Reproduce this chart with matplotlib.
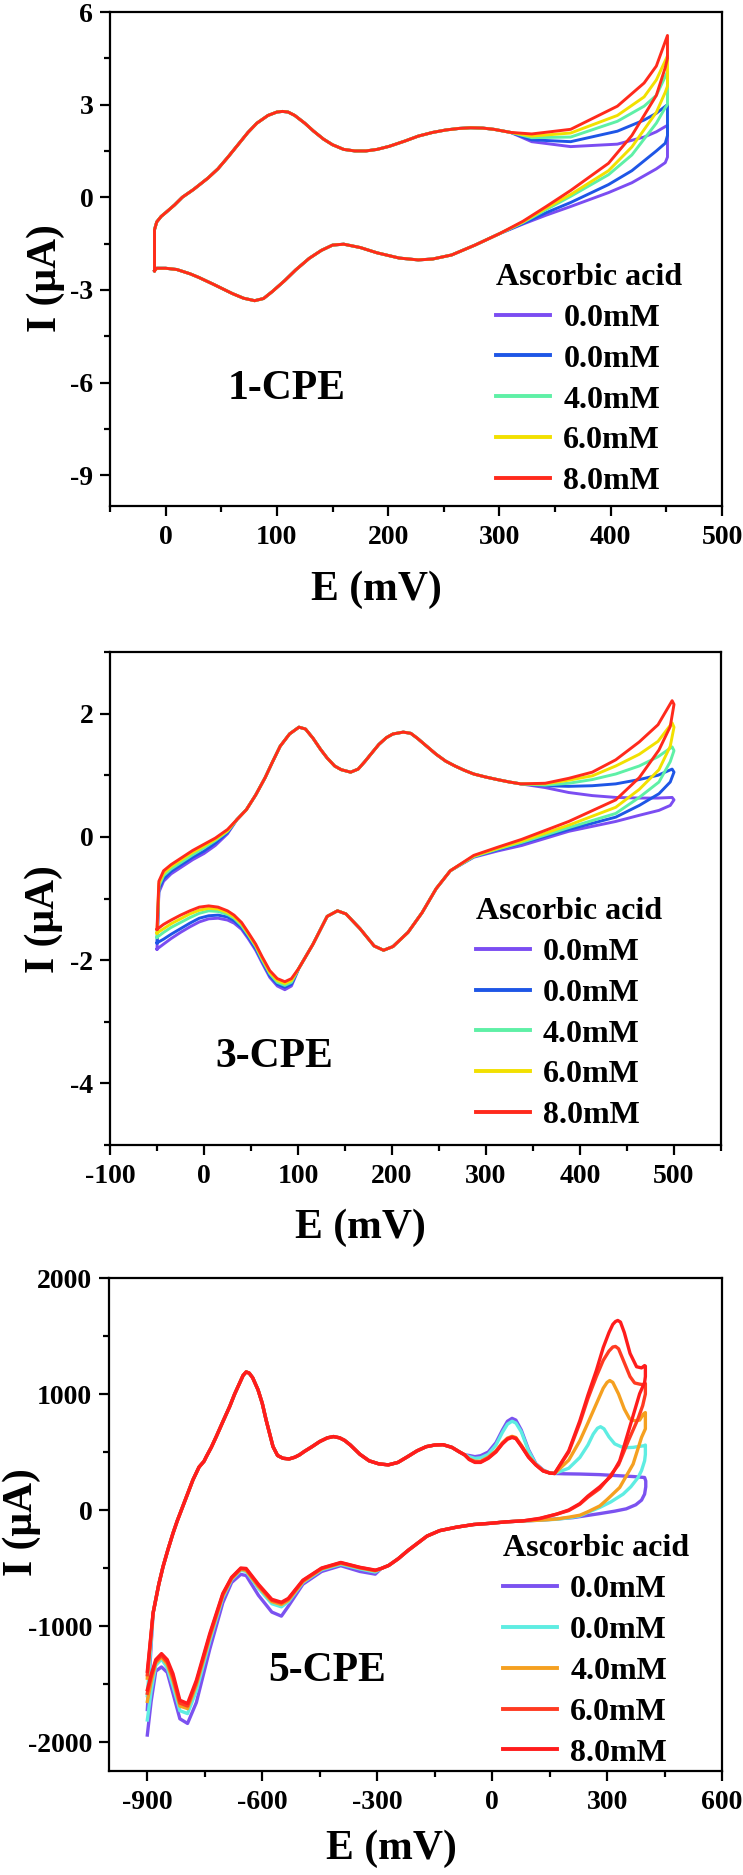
import matplotlib
matplotlib.use("Agg")
import matplotlib.pyplot as plt
import numpy as np
from matplotlib.ticker import MultipleLocator, AutoMinorLocator

plt.rcParams['font.family'] = ['Liberation Serif', 'DejaVu Serif']
plt.rcParams['font.weight'] = 'bold'
plt.rcParams['axes.labelweight'] = 'bold'
plt.rcParams['axes.unicode_minus'] = False

labels = ["0.0mM", "0.0mM", "4.0mM", "6.0mM", "8.0mM"]
legend_title = "Ascorbic acid"
colors_a = ["#7B4DF2", "#1E56E6", "#5EF0A6", "#F2E000", "#FF2A1C"]
colors_c = ["#7B52F0", "#5EEDE2", "#F5A020", "#FF3B22", "#FF1C1C"]

# ---------------- Panel 1 (1-CPE) ----------------
p1_up_x = [-10, -8, -4, 0, 8, 15, 25, 38, 47, 56, 65, 74, 82, 92, 100, 105, 110, 116, 125,
           133, 142, 150, 160, 170, 180, 190, 201, 215, 227, 240, 252, 264, 274, 285, 295, 310]
p1_up_y = [-1.05, -0.8, -0.62, -0.5, -0.25, 0.0, 0.25, 0.62, 0.92, 1.3, 1.7, 2.1, 2.4, 2.65, 2.76,
           2.78, 2.76, 2.65, 2.4, 2.14, 1.88, 1.7, 1.55, 1.5, 1.5, 1.55, 1.65, 1.82, 1.98, 2.1, 2.18,
           2.23, 2.25, 2.24, 2.2, 2.1]
p1_uptail_x = [329, 364, 406, 430, 441, 451]
p1_uptail_y = [
    [1.8, 1.64, 1.72, 1.95, 2.12, 2.33],
    [1.86, 1.8, 2.14, 2.5, 2.72, 3.0],
    [1.93, 1.95, 2.46, 2.95, 3.3, 4.06],
    [1.98, 2.08, 2.65, 3.25, 3.8, 4.58],
    [2.05, 2.2, 2.95, 3.7, 4.25, 5.24],
]
p1_lotail_x = [451, 449, 441, 419, 398, 364, 342, 321]
p1_lotail_y = [
    [1.3, 1.12, 0.92, 0.47, 0.15, -0.3, -0.58, -0.87],
    [2.0, 1.75, 1.5, 0.86, 0.41, -0.17, -0.5, -0.85],
    [3.0, 2.9, 2.4, 1.37, 0.73, 0.03, -0.4, -0.82],
    [3.6, 3.4, 2.75, 1.63, 0.86, 0.09, -0.35, -0.8],
    [4.5, 4.2, 3.3, 2.0, 1.1, 0.22, -0.3, -0.78],
]
p1_lo_x = [300, 278, 257, 240, 227, 210, 190, 175, 160, 150, 140, 129, 117, 107, 96, 88, 80,
           70, 60, 43, 30, 22, 10, 0, -8, -10]
p1_lo_y = [-1.18, -1.55, -1.87, -2.0, -2.03, -1.97, -1.8, -1.63, -1.52, -1.55, -1.72, -1.98,
           -2.35, -2.7, -3.05, -3.28, -3.35, -3.27, -3.12, -2.82, -2.6, -2.48, -2.34, -2.3, -2.3, -2.38]

# ---------------- Panel 2 (3-CPE) ----------------
p2_upleft_x = [-50, -48, -43, -35, -25, -12, 0, 12, 25]
p2_upleft_y = [
    [-1.82, -0.9, -0.72, -0.6, -0.5, -0.37, -0.27, -0.14, 0.05],
    [-1.72, -0.85, -0.68, -0.56, -0.46, -0.33, -0.23, -0.1, 0.07],
    [-1.63, -0.8, -0.63, -0.52, -0.42, -0.29, -0.18, -0.06, 0.09],
    [-1.56, -0.76, -0.59, -0.48, -0.38, -0.25, -0.15, -0.04, 0.1],
    [-1.5, -0.72, -0.55, -0.45, -0.35, -0.22, -0.12, -0.02, 0.12],
]
p2_up_x = [35, 45, 55, 65, 73, 81, 91, 101, 108, 116, 124, 131, 139, 146, 156, 164, 171, 179,
           186, 194, 201, 212, 220, 227, 237, 247, 257, 267, 277, 287, 300, 312, 325]
p2_up_y = [0.28, 0.44, 0.68, 0.96, 1.22, 1.47, 1.67, 1.78, 1.75, 1.6, 1.42, 1.28, 1.15, 1.09,
           1.05, 1.1, 1.22, 1.37, 1.5, 1.61, 1.67, 1.7, 1.68, 1.6, 1.47, 1.34, 1.23, 1.15, 1.08,
           1.02, 0.97, 0.93, 0.89]
p2_uptail_x = [337, 363, 388, 413, 438, 463, 483, 498]
p2_uptail_y = [
    [0.86, 0.8, 0.72, 0.67, 0.64, 0.63, 0.63, 0.64],
    [0.86, 0.83, 0.82, 0.83, 0.86, 0.93, 1.0, 1.1],
    [0.86, 0.84, 0.87, 0.93, 1.02, 1.15, 1.3, 1.46],
    [0.86, 0.86, 0.92, 0.99, 1.15, 1.34, 1.55, 1.85],
    [0.86, 0.87, 0.95, 1.05, 1.25, 1.54, 1.82, 2.21],
]
p2_lotail_x = [500, 496, 484, 463, 438, 388, 338, 312, 287]
p2_lotail_y = [
    [0.6, 0.51, 0.43, 0.35, 0.25, 0.09, -0.14, -0.23, -0.33],
    [1.05, 0.89, 0.7, 0.51, 0.32, 0.12, -0.1, -0.21, -0.32],
    [1.4, 1.22, 0.89, 0.64, 0.38, 0.15, -0.09, -0.2, -0.32],
    [1.78, 1.47, 1.09, 0.77, 0.48, 0.19, -0.07, -0.19, -0.31],
    [2.15, 1.79, 1.41, 0.96, 0.6, 0.25, -0.04, -0.17, -0.3],
]
p2_lo_x = [262, 247, 232, 217, 201, 191, 181, 166, 151, 142, 131, 116, 101]
p2_lo_y = [-0.55, -0.84, -1.23, -1.55, -1.78, -1.84, -1.77, -1.49, -1.25, -1.2, -1.29, -1.74, -2.13]
p2_loleft_x = [93, 86, 78, 70, 62, 55, 47, 40, 32, 25, 15, 5, -5, -15, -25, -35, -43, -50]
p2_loleft_y = [
    [-2.42, -2.48, -2.42, -2.28, -2.05, -1.84, -1.65, -1.5, -1.4, -1.35, -1.32, -1.33, -1.38, -1.46, -1.55, -1.65, -1.74, -1.82],
    [-2.39, -2.44, -2.39, -2.25, -2.02, -1.81, -1.62, -1.47, -1.36, -1.3, -1.27, -1.28, -1.32, -1.4, -1.49, -1.58, -1.66, -1.72],
    [-2.36, -2.41, -2.36, -2.22, -2.0, -1.78, -1.59, -1.44, -1.32, -1.26, -1.21, -1.2, -1.24, -1.31, -1.39, -1.47, -1.55, -1.63],
    [-2.33, -2.38, -2.33, -2.2, -1.97, -1.76, -1.57, -1.41, -1.3, -1.23, -1.17, -1.16, -1.19, -1.25, -1.33, -1.41, -1.49, -1.56],
    [-2.3, -2.35, -2.3, -2.17, -1.95, -1.74, -1.55, -1.39, -1.27, -1.2, -1.14, -1.12, -1.14, -1.2, -1.27, -1.35, -1.42, -1.5],
]

# ---------------- Panel 3 (5-CPE) ----------------
p3_start_y = [-1720, -1600, -1450, -1420, -1390]
p3_up_x = [-885, -870, -859, -846, -833, -822, -811, -796, -781, -765, -752, -746, -733, -720,
           -703, -685, -672, -659, -650, -642, -634, -625, -611, -600, -590, -580, -572, -560,
           -546, -530, -515, -503, -490, -470, -450, -430, -414, -398, -385, -370, -345, -321,
           -296, -271, -246, -221, -196, -172, -150, -128, -105, -85, -72]
p3_up_y = [-890, -640, -489, -340, -201, -95, 0, 130, 259, 370, 420, 460, 540, 633,
           760, 892, 1000, 1094, 1160, 1190, 1180, 1140, 1036, 920, 777, 650, 547, 470,
           446, 440, 455, 475, 505, 546, 590, 622, 633, 622, 600, 560, 480, 424,
           398, 389, 410, 459, 510, 546, 560, 563, 540, 500, 476]
p3_mid_x = [-60, -45, -30, -10, 10, 27, 40, 52, 62, 76, 95, 114, 133, 151, 163]
p3_mid_y = [
    [470, 460, 468, 500, 580, 690, 765, 790, 775, 690, 520, 400, 345, 318, 315],
    [460, 445, 450, 480, 560, 670, 740, 765, 750, 675, 510, 395, 342, 318, 315],
    [440, 420, 420, 455, 510, 580, 620, 635, 625, 560, 462, 392, 340, 318, 315],
    [438, 415, 415, 450, 505, 575, 615, 630, 620, 555, 458, 390, 338, 318, 315],
    [435, 410, 410, 445, 500, 570, 610, 625, 615, 550, 455, 388, 336, 318, 315],
]
p3_rup_x = [
    [190, 229, 280, 333, 370, 398, 401, 401],
    [200, 229, 250, 264, 275, 283, 292, 305, 320, 337, 355, 368, 385, 396, 400],
    [200, 229, 250, 272, 290, 300, 307, 315, 330, 345, 359, 372, 385, 395, 400],
    [200, 229, 250, 272, 290, 305, 315, 322, 330, 345, 360, 372, 385, 395, 400],
    [200, 229, 250, 272, 290, 305, 315, 322, 328, 335, 345, 360, 377, 390, 398, 400],
]
p3_rup_y = [
    [312, 310, 305, 295, 288, 280, 250, 200],
    [360, 453, 560, 655, 705, 718, 700, 630, 570, 545, 538, 540, 548, 554, 560],
    [430, 597, 750, 914, 1050, 1100, 1116, 1100, 1000, 870, 785, 770, 775, 828, 840],
    [500, 750, 960, 1150, 1290, 1370, 1405, 1410, 1390, 1270, 1150, 1095, 1085, 1080, 1090],
    [510, 770, 990, 1202, 1400, 1530, 1600, 1625, 1634, 1620, 1530, 1350, 1235, 1225, 1245, 1240],
]
p3_rlo_x = [
    [398, 390, 375, 350, 320, 281, 211, 124],
    [400, 398, 390, 381, 362, 342, 310, 281, 250, 229, 200, 168, 124],
    [400, 390, 368, 333, 300, 281, 250, 229, 200, 168, 124],
    [400, 393, 380, 356, 330, 300, 281, 250, 229, 200, 168, 124],
    [400, 398, 385, 359, 333, 310, 281, 250, 229, 200, 168, 124],
]
p3_rlo_y = [
    [137, 85, 45, 10, -10, -31, -66, -88],
    [480, 424, 340, 280, 200, 137, 70, 22, -20, -51, -68, -80, -88],
    [700, 626, 396, 194, 90, 35, -15, -45, -62, -78, -88],
    [1000, 900, 780, 600, 390, 260, 185, 110, 50, -5, -36, -75],
    [1150, 1100, 1002, 712, 424, 290, 200, 120, 55, 0, -36, -72],
]
p3_lo_x = [80, 37, -6, -48, -93, -137, -170, -196, -220, -245, -270, -290]
p3_lo_y = [-94, -102, -115, -125, -148, -178, -225, -290, -350, -420, -478, -505]
p3_loleft_x = [-305, -345, -395, -445, -494, -532, -550, -575, -610, -642, -656, -680, -703,
               -737, -772, -795, -815, -833, -848, -863, -878, -890, -900]
p3_loleft_y = [
    [-553, -530, -480, -530, -640, -830, -915, -880, -735, -565, -555, -625, -800, -1200, -1660, -1840, -1800, -1580, -1400, -1353, -1390, -1650, -1940],
    [-535, -508, -468, -515, -625, -792, -835, -808, -675, -530, -520, -600, -755, -1130, -1560, -1755, -1730, -1520, -1360, -1285, -1340, -1560, -1810],
    [-525, -500, -460, -508, -618, -780, -815, -790, -660, -520, -512, -592, -740, -1100, -1510, -1712, -1690, -1470, -1330, -1268, -1320, -1480, -1650],
    [-520, -496, -455, -503, -610, -768, -802, -778, -648, -510, -505, -585, -728, -1080, -1485, -1690, -1665, -1440, -1310, -1255, -1305, -1440, -1580],
    [-518, -494, -452, -500, -605, -762, -795, -770, -640, -504, -500, -580, -720, -1065, -1468, -1668, -1640, -1411, -1290, -1238, -1290, -1420, -1550],
]


def cat(*segs):
    return np.concatenate([np.asarray(s, dtype=float) for s in segs])


fig = plt.figure(figsize=(7.43, 18.75), dpi=100)
W, H = 743.0, 1875.0


def make_axes(left, top, right, bottom):
    return fig.add_axes([left / W, 1 - bottom / H, (right - left) / W, (bottom - top) / H])


ax1 = make_axes(110, 12, 722, 506)
ax2 = make_axes(110, 652, 721, 1145)
ax3 = make_axes(109, 1278, 722, 1771)

lw = 2.1
for i in range(5):
    x = cat([p1_lo_x[-1]], p1_up_x, p1_uptail_x, p1_lotail_x, p1_lo_x)
    y = cat([p1_lo_y[-1]], p1_up_y, p1_uptail_y[i], p1_lotail_y[i], p1_lo_y)
    ax1.plot(x, y, color=colors_a[i], lw=lw, label=labels[i], solid_joinstyle='round')

for i in range(5):
    x = cat(p2_upleft_x, p2_up_x, p2_uptail_x, p2_lotail_x, p2_lo_x, p2_loleft_x)
    y = cat(p2_upleft_y[i], p2_up_y, p2_uptail_y[i], p2_lotail_y[i], p2_lo_y, p2_loleft_y[i])
    ax2.plot(x, y, color=colors_a[i], lw=lw, label=labels[i], solid_joinstyle='round')

for i in range(5):
    x = cat([-900], p3_up_x, p3_mid_x, p3_rup_x[i], p3_rlo_x[i], p3_lo_x, p3_loleft_x)
    y = cat([p3_start_y[i]], p3_up_y, p3_mid_y[i], p3_rup_y[i], p3_rlo_y[i], p3_lo_y, p3_loleft_y[i])
    ax3.plot(x, y, color=colors_c[i], lw=2.4, label=labels[i], solid_joinstyle='round')

tick_fs = 20
lab_fs = 30
leg_fs = 23

# (axes, xlim, ylim, xmajor, ymajor, name, name pos (data), legend anchor (axes),
#  xlabel centre (fig px), ylabel centre (fig px))
configs = [
    (ax1, (-50, 500), (-10, 6), 100, 3, "1-CPE", (109, -6.2), (0.631, 0.492), (376, 590), (46, 278)),
    (ax2, (-100, 550), (-5, 3), 100, 2, "3-CPE", (75, -3.58), (0.599, 0.503), (360, 1228), (44, 919)),
    (ax3, (-1000, 600), (-2250, 2000), 300, 1000, "5-CPE", (-431, -1388), (0.643, 0.480), (391, 1849), (22, 1522)),
]
for ax, xl, yl, xmaj, ymaj, name, npos, legpos, xlab, ylab in configs:
    ax.set_xlim(*xl)
    ax.set_ylim(*yl)
    ax.xaxis.set_major_locator(MultipleLocator(xmaj))
    ax.yaxis.set_major_locator(MultipleLocator(ymaj))
    ax.xaxis.set_minor_locator(AutoMinorLocator(2))
    ax.yaxis.set_minor_locator(AutoMinorLocator(2))
    ax.tick_params(which='major', direction='out', length=7, width=1.6, labelsize=tick_fs)
    ax.tick_params(axis='x', which='major', pad=7)
    ax.tick_params(axis='y', which='major', pad=5)
    ax.tick_params(which='minor', direction='out', length=4, width=1.6)
    for sp in ax.spines.values():
        sp.set_linewidth(1.6)
    for t in ax.get_xticklabels() + ax.get_yticklabels():
        t.set_fontweight('bold')
    fig.text(xlab[0] / W, 1 - xlab[1] / H, "E (mV)", fontsize=lab_fs, fontweight='bold',
             ha='center', va='center')
    fig.text(ylab[0] / W, 1 - ylab[1] / H, "I (μA)", fontsize=lab_fs, fontweight='bold',
             ha='center', va='center', rotation=90)
    ax.text(npos[0], npos[1], name, fontsize=30, fontweight='bold', ha='center', va='center')
    leg = ax.legend(loc='upper left', bbox_to_anchor=legpos, frameon=False, title=legend_title,
                    fontsize=leg_fs, title_fontsize=leg_fs, alignment='left',
                    handlelength=1.7, handletextpad=0.4, labelspacing=0.36,
                    borderpad=0, borderaxespad=0)
    leg.get_title().set_fontweight('bold')
    for h in leg.get_lines():
        h.set_linewidth(2.8)

fig.savefig("out.png", dpi=100)
